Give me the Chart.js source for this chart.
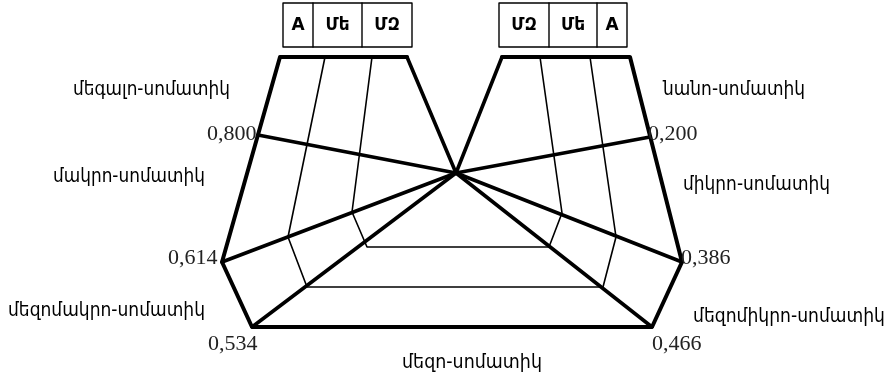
<!DOCTYPE html>
<html>
<head>
<meta charset="utf-8">
<script src="https://cdn.jsdelivr.net/npm/chart.js@4.4.1/dist/chart.umd.min.js"></script>
<style>
  body { margin: 0; background: #fff; }
  #wrap { width: 891px; height: 377px; }
</style>
</head>
<body>
<div id="wrap"><canvas id="diagram"></canvas></div>
<script>
// diagram geometry, in drawing units (x to the right, y downward)
const hubX = 456;
const hubY = 173;
const rimX = [407, 280, 222, 252, 652, 682, 630, 502];
const rimY = [57, 57, 262, 327, 327, 262, 57, 57];
const spokeX = [407, 258, 222, 252, 652, 682, 650, 502];
const spokeY = [57, 135, 262, 327, 327, 262, 137, 57];
const outerBandX = [325, 288, 307, 603, 616, 590];
const outerBandY = [57, 237, 287, 287, 237, 57];
const innerBandX = [372, 352, 367, 549, 562, 540];
const innerBandY = [57, 212, 247, 247, 213, 57];

// header tables
const headLeft = ['A', 'Մե', 'ՄԶ'];
const headRight = ['ՄԶ', 'Մե', 'A'];
const headLeftEdges = [283, 313, 362, 412];
const headRightEdges = [499, 549, 597, 627];

// ratio values at the rim and the class names
const ratios = ['0,800', '0,614', '0,534', '0,466', '0,386', '0,200'];
const classes = ['մեգալո-սոմատիկ', 'մակրո-սոմատիկ', 'մեզոմակրո-սոմատիկ', 'մեզո-սոմատիկ',
                 'մեզոմիկրո-սոմատիկ', 'միկրո-սոմատիկ', 'նանո-սոմատիկ'];

function pts(xs, ys) {
    return xs.map((v, i) => ({ x: v, y: ys[i] }));
}

function line(data, width) {
    return {
        data: data,
        showLine: true,
        borderColor: '#000',
        borderWidth: width,
        pointRadius: 0,
        fill: false,
        tension: 0,
        borderJoinStyle: 'round',
        borderCapStyle: 'round'
    };
}

function box(edges, top, bottom) {
    const l = edges[0], r = edges[edges.length - 1];
    const sets = [line([{x: l, y: top}, {x: r, y: top}, {x: r, y: bottom}, {x: l, y: bottom}, {x: l, y: top}], 1.4)];
    edges.slice(1, -1).forEach(e => sets.push(line([{x: e, y: top}, {x: e, y: bottom}], 1.4)));
    return sets;
}

let datasets = [];
datasets.push(line(pts(rimX, rimY), 4));
spokeX.forEach((sx, i) => datasets.push(line([{x: hubX, y: hubY}, {x: sx, y: spokeY[i]}], 3.6)));
datasets.push(line(pts(outerBandX, outerBandY), 1.6));
datasets.push(line(pts(innerBandX, innerBandY), 1.6));
datasets = datasets.concat(box(headLeftEdges, 3, 47), box(headRightEdges, 3, 47));

// text anchors: [left x, middle y, width]
const classPos = [[73, 90, 157], [53, 177, 152], [8, 311, 197], [402, 363, 140],
                  [693, 317, 192], [683, 185, 147], [663, 90, 142]];
const ratioPos = [[207, 134], [168, 258], [208, 344], [652, 344], [681, 258], [648, 134]];

const textPlugin = {
    id: 'texts',
    afterDatasetsDraw(chart) {
        const ctx = chart.ctx;
        const sx = chart.scales.x, sy = chart.scales.y;
        ctx.save();
        ctx.fillStyle = '#000';
        ctx.textBaseline = 'middle';
        ctx.textAlign = 'left';

        ctx.font = '20px "DejaVu Sans"';
        classes.forEach((t, i) => {
            const p = classPos[i];
            ctx.fillText(t, sx.getPixelForValue(p[0]), sy.getPixelForValue(p[1]), p[2]);
        });

        ctx.font = '22px "Liberation Serif"';
        ctx.fillStyle = '#222';
        ratios.forEach((t, i) => {
            const p = ratioPos[i];
            ctx.fillText(t, sx.getPixelForValue(p[0]), sy.getPixelForValue(p[1]));
        });

        ctx.fillStyle = '#000';
        ctx.font = 'bold 17px "DejaVu Sans"';
        ctx.textAlign = 'center';
        const heads = [[headLeft, headLeftEdges], [headRight, headRightEdges]];
        heads.forEach(([labels, edges]) => {
            labels.forEach((t, i) => {
                const cx = (edges[i] + edges[i + 1]) / 2;
                ctx.fillText(t, sx.getPixelForValue(cx), sy.getPixelForValue(26));
            });
        });
        ctx.restore();
    }
};

new Chart(document.getElementById('diagram').getContext('2d'), {
    type: 'scatter',
    data: { datasets: datasets },
    options: {
        responsive: true,
        maintainAspectRatio: false,
        animation: false,
        layout: { padding: 0 },
        scales: {
            x: { type: 'linear', min: 0, max: 891, display: false },
            y: { type: 'linear', min: 0, max: 377, reverse: true, display: false }
        },
        plugins: {
            legend: { display: false },
            tooltip: { enabled: false }
        }
    },
    plugins: [textPlugin]
});
</script>
</body>
</html>
